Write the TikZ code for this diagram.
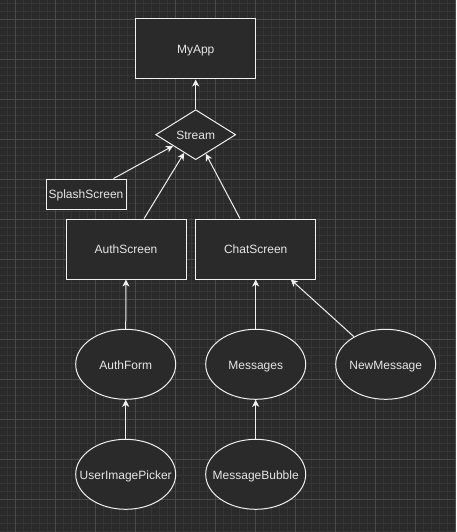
\documentclass[tikz,border=0pt]{standalone}
\usepackage{fontspec}
\setmainfont{Liberation Sans}
\usetikzlibrary{shapes.geometric,arrows.meta,calc}
\definecolor{bgc}{HTML}{2A2A2A}
\definecolor{minorc}{HTML}{353535}
\definecolor{majorc}{HTML}{4A4A4A}
\definecolor{fg}{HTML}{F0F0F0}
\definecolor{txt}{HTML}{E6E6E6}
\newcommand{\fixw}[1]{\makebox[0pt][c]{#1}}
\begin{document}
\begin{tikzpicture}[x=1pt,y=-1pt,
  lbl/.style={text=txt,font=\fontsize{12}{14}\selectfont,text height=9.6pt,text depth=0pt},
  box/.style={draw=fg,line width=1pt,fill=bgc,rectangle,inner sep=0pt,lbl},
  oval/.style={draw=fg,line width=1pt,fill=bgc,ellipse,inner sep=0pt,minimum width=100pt,minimum height=70pt,lbl},
  conn/.style={draw=fg,line width=1pt,-{Stealth[length=7pt,width=7pt,inset=2pt]}}]
\useasboundingbox (0,0) rectangle (456,532);
\fill[bgc] (0,0) rectangle (456,532);
% minor grid
\foreach \i in {0,...,56} \draw[minorc,line width=0.6pt] ({7.7+8*\i},0) -- ({7.7+8*\i},532);
\foreach \i in {0,...,66} \draw[minorc,line width=0.6pt] (0,{3+8*\i}) -- (456,{3+8*\i});
% major grid
\foreach \i in {0,...,11} \draw[majorc,line width=0.8pt] ({15.7+40*\i},0) -- ({15.7+40*\i},532);
\foreach \i in {0,...,12} \draw[majorc,line width=0.8pt] (0,{19+40*\i}) -- (456,{19+40*\i});
% nodes
\node[box,minimum width=120pt,minimum height=60pt] (myapp) at (195.7,49) {MyApp};
\node[box,diamond,minimum width=80pt,minimum height=50pt,aspect=1.6] (stream) at (195.7,134.7) {Stream};
\node[box,minimum width=80pt,minimum height=30pt] (splash) at (86,194) {SplashScreen};
\node[box,minimum width=120pt,minimum height=60pt] (auth) at (126,249) {AuthScreen};
\node[box,minimum width=120pt,minimum height=60pt] (chat) at (255.7,249) {ChatScreen};
\node[oval] (authform) at (125.7,364.3) {\fixw{AuthForm}};
\node[oval] (messages) at (255.7,364.3) {\fixw{Messages}};
\node[oval] (newmsg) at (385.7,364.3) {\fixw{NewMessage}};
\node[oval] (picker) at (125.7,474.3) {\fixw{UserImagePicker}};
\node[oval] (bubble) at (255.7,474.3) {\fixw{MessageBubble}};
% connectors
\draw[conn] (stream.north) -- (myapp.south);
\draw[conn] ($(splash.north west)!0.84!(splash.north east)$) -- ($(stream.west)!0.44!(stream.south)$);
\draw[conn] ($(auth.north west)!0.65!(auth.north east)$) -- ($(stream.west)!0.715!(stream.south)$);
\draw[conn] ($(chat.north west)!0.37!(chat.north east)$) -- ($(stream.south)!0.25!(stream.east)$);
\draw[conn] (authform.north) -- (auth.south);
\draw[conn] (messages.north) -- (chat.south);
\draw[conn] (newmsg.139) -- ($(chat.south west)!0.79!(chat.south east)$);
\draw[conn] (picker.north) -- (authform.south);
\draw[conn] (bubble.north) -- (messages.south);
\end{tikzpicture}
\end{document}
